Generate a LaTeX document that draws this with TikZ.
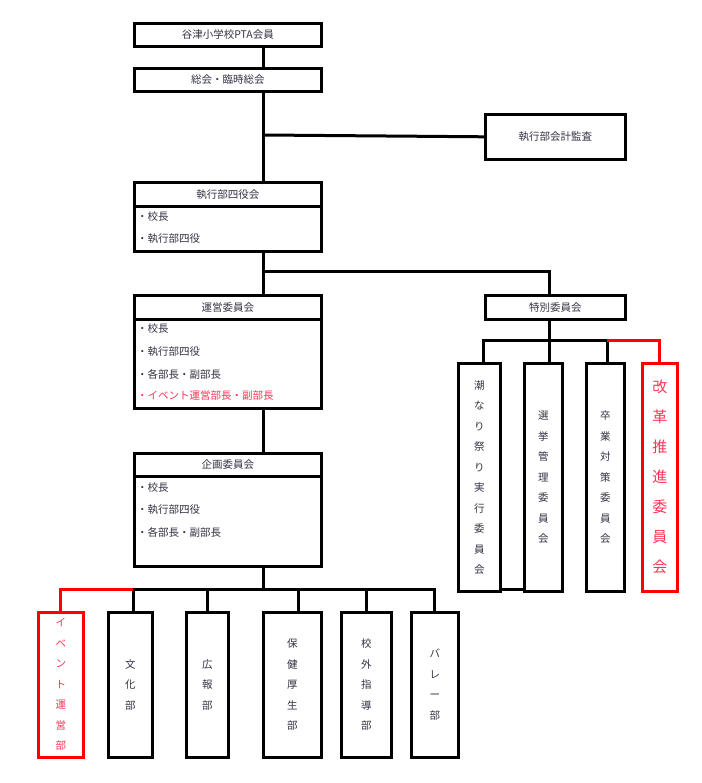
\documentclass[tikz,border=0pt]{standalone}
\usepackage{fontspec}
\usetikzlibrary{calc}
\setmainfont{Noto Sans CJK JP}
\definecolor{tx}{HTML}{333344}
\definecolor{rl}{HTML}{FF0000}
\definecolor{rt}{HTML}{FF3355}
\begin{document}
\begin{tikzpicture}[x=1pt,y=-1pt,
  box/.style={draw=black,line width=2.6pt,fill=white,inner sep=0pt,anchor=north west,text=tx,font=\fontsize{10.5}{12}\selectfont},
  rbox/.style={box,draw=rl,text=rt},
  vt/.style={align=center,font=\fontsize{10.5}{20.5}\selectfont},
  item/.style={anchor=west,text=tx,inner sep=0pt,font=\fontsize{10.5}{12}\selectfont},
  ln/.style={line width=3pt},
  rln/.style={line width=3pt,draw=rl}]
\useasboundingbox (0,0) rectangle (701,783);
\coordinate (cx) at (263,0);
\coordinate (tx) at (549,0);
\node[box,minimum width=187,minimum height=23] (pta) at (133,22) {谷津小学校PTA会員};
\node[box,minimum width=187,minimum height=23] (sokai) at (133,67) {総会・臨時総会};
\node[box,minimum width=140,minimum height=45] (kansa) at (484,113) {執行部会計監査};
\node[box,minimum width=187,minimum height=24] (h1) at (133,181) {執行部四役会};
\node[box,minimum width=187,minimum height=45] (b1) at (133,205) {};
\node[item] (i11) at (137,217) {・校長};
\node[item] (i12) at (137,239) {・執行部四役};
\node[box,minimum width=187,minimum height=24] (h2) at (133,294) {運営委員会};
\node[box,minimum width=187,minimum height=89] (b2) at (133,318) {};
\node[item] (i21) at (137,329) {・校長};
\node[item] (i22) at (137,352) {・執行部四役};
\node[item] (i23) at (137,374) {・各部長・副部長};
\node[item,text=rt] (i24) at (137,396) {・イベント運営部長・副部長};
\node[box,minimum width=140,minimum height=24] (tok) at (484,294) {特別委員会};
\node[box,minimum width=187,minimum height=23] (h3) at (133,452) {企画委員会};
\node[box,minimum width=187,minimum height=90] (b3) at (133,475) {};
\node[item] (i31) at (137,488) {・校長};
\node[item] (i32) at (137,510) {・執行部四役};
\node[item] (i33) at (137,532) {・各部長・副部長};
% special committees
\node[box,vt,minimum width=42,minimum height=228] (s1) at (457,362) {潮\\な\\り\\祭\\り\\実\\行\\委\\員\\会};
\node[box,vt,minimum width=38,minimum height=228] (s2) at (523,362) {選\\挙\\管\\理\\委\\員\\会};
\node[box,vt,minimum width=38,minimum height=228] (s3) at (585,362) {卒\\業\\対\\策\\委\\員\\会};
\node[rbox,align=center,font=\fontsize{15}{30}\selectfont,minimum width=35,minimum height=228] (s4) at (641,362) {改\\革\\推\\進\\委\\員\\会};
% departments
\node[rbox,vt,minimum width=45,minimum height=145] (d0) at (37,611) {イ\\ベ\\ン\\ト\\運\\営\\部};
\node[box,vt,minimum width=44,minimum height=145] (d1) at (107,611) {文\\化\\部};
\node[box,vt,minimum width=42,minimum height=145] (d2) at (185,611) {広\\報\\部};
\node[box,vt,minimum width=58,minimum height=145] (d3) at (262,611) {保\\健\\厚\\生\\部};
\node[box,vt,minimum width=50,minimum height=145] (d4) at (340,611) {校\\外\\指\\導\\部};
\node[box,vt,minimum width=47,minimum height=145] (d5) at (410,611) {バ\\レ\\ー\\部};
% junctions
\coordinate (j1) at (263,135);
\coordinate (j2) at (263,271);
\coordinate (j4) at (549,340);
\coordinate (j5) at (263,589);
\coordinate (c1) at (483,0);
\coordinate (c3) at (607,0);
\coordinate (e1) at (133,0);
\coordinate (e3) at (298,0);
\draw[ln] (pta.south -| cx) -- (sokai.north -| cx);
\draw[ln] (sokai.south -| cx) -- (h1.north -| cx);
\draw[ln] (j1) -- (kansa.west);
\draw[ln] (b1.south -| cx) -- (h2.north -| cx);
\draw[ln] (j2) -| (tok.north -| tx);
\draw[ln] (tok.south -| tx) -- (j4);
\draw[ln] (s1.north -| c1) |- (j4) -| (s3.north -| c3);
\draw[ln] (s2.north -| tx) -- (j4);
\draw[rln] (j4 -| c3) -| (s4.north);
\draw[ln] ($(s1.south east)+(0,-3)$) -- ($(s2.south west)+(0,-3)$);
\draw[ln] (b2.south -| cx) -- (h3.north -| cx);
\draw[ln] (b3.south -| cx) -- (j5);
\draw[ln] (d1.north -| e1) |- (j5) -| (d5.north);
\draw[ln] (d2.north) -- (d2.north |- j5);
\draw[ln] (d3.north -| e3) -- (j5 -| e3);
\draw[ln] (d4.north) -- (d4.north |- j5);
\draw[rln] (j5 -| e1) -| (d0.north);
\end{tikzpicture}
\end{document}
